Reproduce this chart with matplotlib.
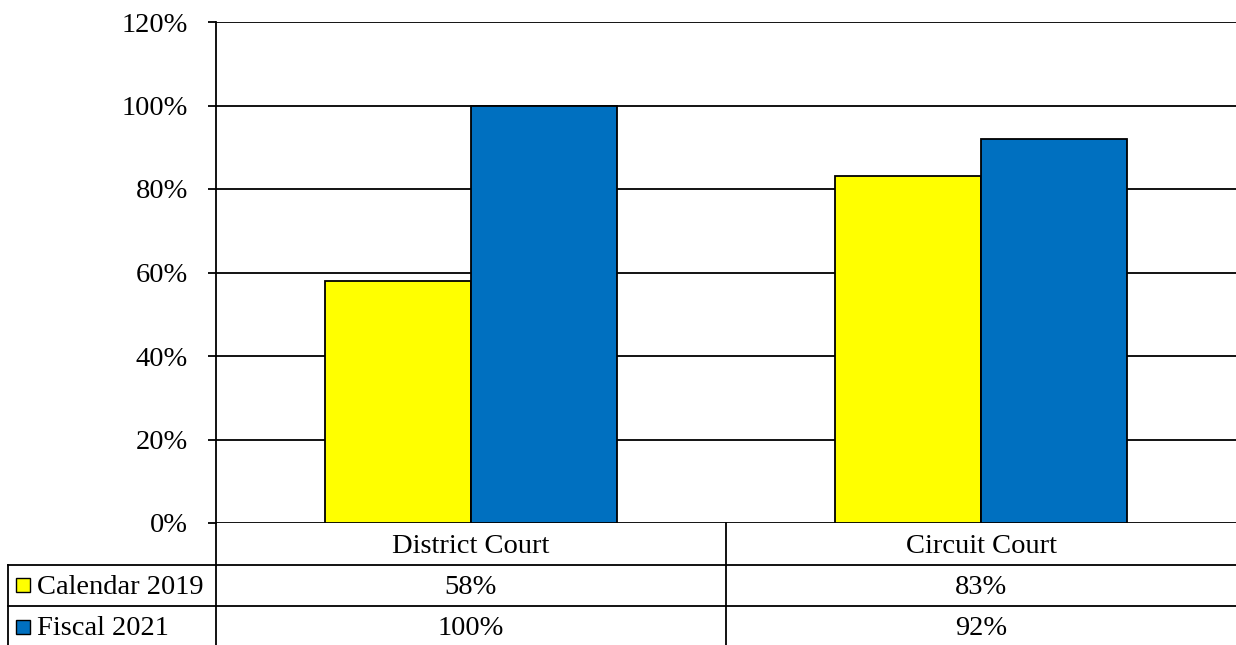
import matplotlib
matplotlib.use('Agg')
import matplotlib.pyplot as plt
from matplotlib.patches import Rectangle

# Доля дел, рассмотренных в срок, по типам судов
categories = ['District Court', 'Circuit Court']
series_names = ['Calendar 2019', 'Fiscal 2021']
calendar_2019 = [58, 83]
fiscal_2021 = [100, 92]
y_ticks = [0, 20, 40, 60, 80, 100, 120]

series_values = [calendar_2019, fiscal_2021]
series_colors = ['#FFFF00', '#0070C0']

plt.rcParams['font.family'] = ['Liberation Serif', 'DejaVu Serif']
FS = 20.5
LW = 1.3

W, H = 1236, 645
fig = plt.figure(figsize=(W / 100, H / 100), dpi=100)

# пиксельные границы области графика
px_left, px_right, px_top, px_bottom = 216, 1236, 22, 523
ax = fig.add_axes([px_left / W, 1 - px_bottom / H,
                   (px_right - px_left) / W, (px_bottom - px_top) / H])

bar_w = 0.286
for i, (vals, color) in enumerate(zip(series_values, series_colors)):
    xs = [k + (i - 0.5) * bar_w for k in range(len(categories))]
    ax.bar(xs, vals, width=bar_w, color=color, edgecolor='black',
           linewidth=LW, zorder=3)

ax.set_xlim(-0.5, len(categories) - 0.5)
ax.set_ylim(y_ticks[0], y_ticks[-1])
ax.set_yticks(y_ticks)
ax.set_yticklabels([f'{t}%' for t in y_ticks], fontsize=FS)
ax.set_xticks([])
ax.tick_params(axis='y', direction='out', length=6, width=LW, pad=14)
for t in y_ticks:
    ax.axhline(t, color='black', linewidth=LW, zorder=1)
for side in ('top', 'right', 'bottom'):
    ax.spines[side].set_visible(False)
ax.spines['left'].set_linewidth(LW)

# таблица данных под графиком, в пиксельных координатах
tax = fig.add_axes([0, 0, 1, 1])
tax.set_xlim(0, W)
tax.set_ylim(H, 0)
tax.axis('off')

row_h = 41.5
rows_y = [px_bottom + row_h * r for r in range(4)]
col_w = (px_right - px_left) / len(categories)
col_x = [px_left + col_w * c for c in range(len(categories) + 1)]
tbl_left = 8

line_kw = dict(color='black', linewidth=LW)
# горизонтальные линии
for y in rows_y[1:3]:
    tax.plot([tbl_left, W], [y, y], **line_kw)
# вертикальные линии
for x in col_x[:-1]:
    tax.plot([x, x], [rows_y[0], H], **line_kw)
tax.plot([tbl_left, tbl_left], [rows_y[1], H], **line_kw)

# заголовки категорий
for c, name in enumerate(categories):
    tax.text((col_x[c] + col_x[c + 1]) / 2, (rows_y[0] + rows_y[1]) / 2 + 3,
             name, ha='center', va='center', fontsize=FS)

# строки серий с ключами легенды
for r, (name, vals, color) in enumerate(zip(series_names, series_values, series_colors)):
    yc = (rows_y[r + 1] + rows_y[r + 2]) / 2
    tax.add_patch(Rectangle((16, yc - 7), 14, 14, facecolor=color,
                            edgecolor='black', linewidth=1.0))
    tax.text(37, yc + 2, name, ha='left', va='center', fontsize=FS)
    for c, v in enumerate(vals):
        tax.text((col_x[c] + col_x[c + 1]) / 2, yc + 2, f'{v}%',
                 ha='center', va='center', fontsize=FS)

fig.savefig('out.png', dpi=100)
